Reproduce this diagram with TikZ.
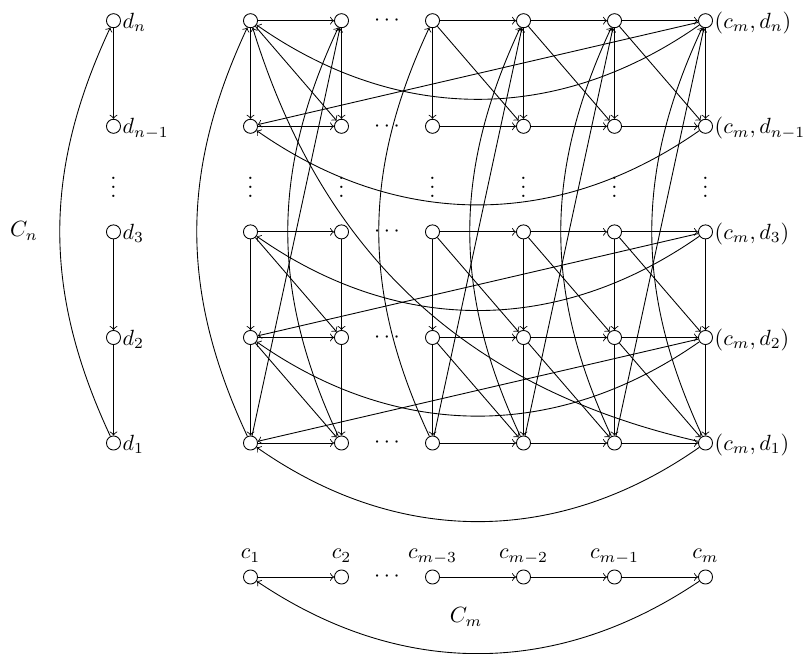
\documentclass[tikz,border=0pt]{standalone}
\begin{document}
\begin{tikzpicture}[x=0.4545pt,y=0.4545pt,
  v/.style={circle,draw,minimum size=6.4pt,inner sep=0pt},
  lab/.style={inner sep=0.6pt,anchor=base west},
  clab/.style={inner sep=0pt,anchor=base},
  dotsn/.style={inner sep=0pt},
  every path/.style={line width=0.4pt},
  ]
\useasboundingbox (0,0) rectangle (803,653);

% grid nodes: column i (c_1,c_2,c_{m-3},c_{m-2},c_{m-1},c_m), row j (d_n,d_{n-1},d_3,d_2,d_1)
\foreach \i/\x in {1/250.5,2/341.5,3/432.5,4/523.5,5/614.5,6/705.5}{
  \foreach \j/\y in {1/632.3,2/526.7,3/421.1,4/315.5,5/210}{
    \node[v] (g\i\j) at (\x,\y) {};
  }
  \node[v] (c\i) at (\x,76) {};
  \node[dotsn] (vd\i) at (\x,472) {$\vdots$};
}
% left column
\foreach \j/\y in {1/632.3,2/526.7,3/421.1,4/315.5,5/210}{
  \node[v] (d\j) at (113.5,\y) {};
  \node[dotsn] (hd\j) at (387,\y) {$\cdots$};
}
\node[dotsn] (vd0) at (113.5,472) {$\vdots$};
\node[dotsn] (hdc) at (387,76) {$\cdots$};

% labels
\node[lab] (ld1) at ([yshift=-3.5pt]d1.east) {$d_n$};
\node[lab] (ld2) at ([yshift=-3.5pt]d2.east) {$d_{n-1}$};
\node[lab] (ld3) at ([yshift=-3.5pt]d3.east) {$d_3$};
\node[lab] (ld4) at ([yshift=-3.5pt]d4.east) {$d_2$};
\node[lab] (ld5) at ([yshift=-3.5pt]d5.east) {$d_1$};
\node[lab] (lg1) at ([yshift=-3.5pt]g61.east) {$(c_m,d_n)$};
\node[lab] (lg2) at ([yshift=-3.5pt]g62.east) {$(c_m,d_{n-1})$};
\node[lab] (lg3) at ([yshift=-3.5pt]g63.east) {$(c_m,d_3)$};
\node[lab] (lg4) at ([yshift=-3.5pt]g64.east) {$(c_m,d_2)$};
\node[lab] (lg5) at ([yshift=-3.5pt]g65.east) {$(c_m,d_1)$};
\node[clab] (lc1) at ([yshift=8.2pt]c1.center) {$c_1$};
\node[clab] (lc2) at ([yshift=8.2pt]c2.center) {$c_2$};
\node[clab] (lc3) at ([yshift=8.2pt]c3.center) {$c_{m-3}$};
\node[clab] (lc4) at ([yshift=8.2pt]c4.center) {$c_{m-2}$};
\node[clab] (lc5) at ([yshift=8.2pt]c5.center) {$c_{m-1}$};
\node[clab] (lc6) at ([yshift=8.2pt]c6.center) {$c_m$};
\node (Cn) at (24,422) {$C_n$};
\node (Cm) at (466,36) {$C_m$};

% cycle C_n
\draw[->] (d1) -- (d2);
\draw[->] (d3) -- (d4);
\draw[->] (d4) -- (d5);
\draw[->] (d5) to[bend left=25] (d1);
% cycle C_m
\draw[->] (c1) -- (c2);
\draw[->] (c3) -- (c4);
\draw[->] (c4) -- (c5);
\draw[->] (c5) -- (c6);
\draw[->] (c6) to[bend left=34] (c1);

% product: horizontal
\foreach \j in {1,...,5}{
  \draw[->] (g1\j) -- (g2\j);
  \draw[->] (g3\j) -- (g4\j);
  \draw[->] (g4\j) -- (g5\j);
  \draw[->] (g5\j) -- (g6\j);
  \draw[->] (g6\j) to[bend left=35] (g1\j);
}
% vertical
\foreach \i in {1,...,6}{
  \draw[->] (g\i1) -- (g\i2);
  \draw[->] (g\i3) -- (g\i4);
  \draw[->] (g\i4) -- (g\i5);
  \draw[->] (g\i5) to[bend left=25] (g\i1);
}
% diagonal
\foreach \i/\k in {1/2,3/4,4/5,5/6}{
  \draw[->] (g\i1) -- (g\k2);
  \draw[->] (g\i3) -- (g\k4);
  \draw[->] (g\i4) -- (g\k5);
  \draw[->] (g\i5) -- (g\k1);
}
\draw[->] (g61) -- (g12);
\draw[->] (g63) -- (g14);
\draw[->] (g64) -- (g15);
\draw[->] (g65) to[bend left=30] (g11);
\end{tikzpicture}
\end{document}
